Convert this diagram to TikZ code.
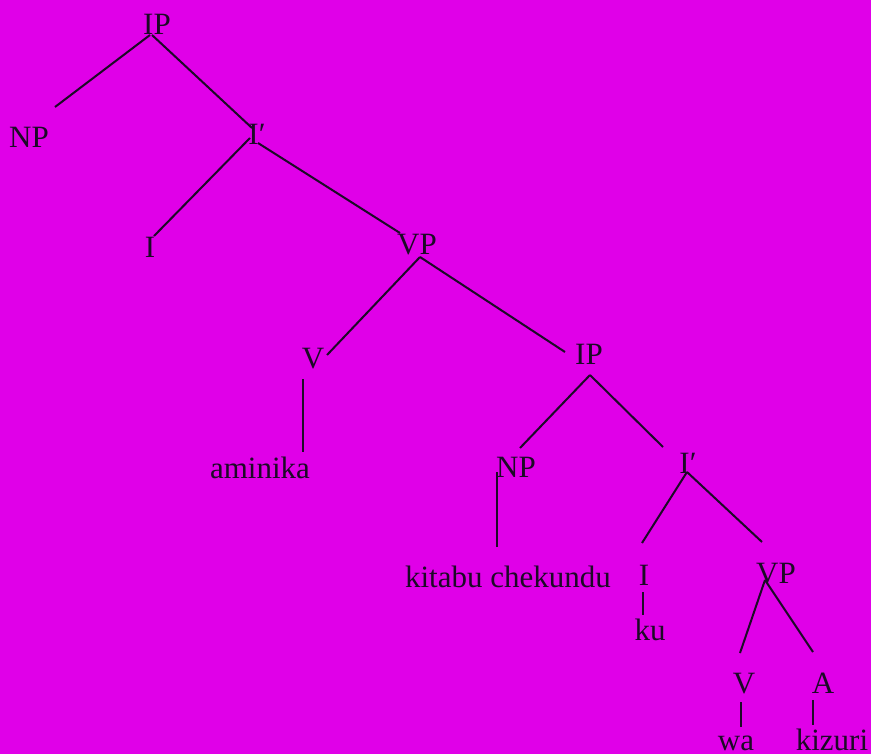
\documentclass[tikz,border=0pt]{standalone}
\usepackage{fontspec}
\setmainfont{Liberation Serif}
\usetikzlibrary{calc}
\definecolor{bgmag}{RGB}{224,0,232}
\definecolor{ink}{RGB}{28,10,38}
\begin{document}
\begin{tikzpicture}[x=1pt,y=-1pt,
  lab/.style={anchor=base,inner sep=0pt,text=ink,font=\fontsize{31}{31}\selectfont},
  edge/.style={draw=ink,line width=2pt}]
\fill[bgmag] (0,0) rectangle (871,754);
\useasboundingbox (0,0) rectangle (871,754);
\node[lab] (ip1) at (157,35) {IP};
\node[lab] (np1) at (29,148) {NP};
\node[lab] (ib1) at (257,145) {I′};
\node[lab] (i1) at (150,258) {I};
\node[lab] (vp1) at (417,255) {VP};
\node[lab] (v1) at (313,368) {V};
\node[lab] (ip2) at (589,365) {IP};
\node[lab] (am) at (260,478) {aminika};
\node[lab] (np2) at (516,477) {NP};
\node[lab] (ib2) at (688,473) {I′};
\node[lab] (kc) at (508,587) {kitabu chekundu};
\node[lab] (i2) at (644,585) {I};
\node[lab] (vp2) at (776,583) {VP};
\node[lab] (ku) at (650,640) {ku};
\node[lab] (v2) at (744,693) {V};
\node[lab] (a2) at (823,693) {A};
\node[lab] (wa) at (736,750) {wa};
\node[lab] (kz) at (832,750) {kizuri};
\draw[edge] ($(ip1.base)+(-7,0)$) -- ($(np1.base)+(26,-41)$);
\draw[edge] ($(ip1.base)+(-5,0)$) -- ($(ib1.base)+(-5,-17)$);
\draw[edge] ($(ib1.base)+(-7,-7)$) -- ($(i1.base)+(4,-22)$);
\draw[edge] ($(ib1.base)+(1,-2)$) -- ($(vp1.base)+(-17,-22)$);
\draw[edge] ($(vp1.base)+(3,2)$) -- ($(v1.base)+(14,-13)$);
\draw[edge] ($(vp1.base)+(3,2)$) -- ($(ip2.base)+(-24,-13)$);
\draw[edge] ($(v1.base)+(-10,11)$) -- ($(am.base)+(43,-26)$);
\draw[edge] ($(ip2.base)+(1,10)$) -- ($(np2.base)+(4,-29)$);
\draw[edge] ($(ip2.base)+(1,10)$) -- ($(ib2.base)+(-25,-26)$);
\draw[edge] ($(np2.base)+(-19,-5)$) -- ($(kc.base)+(-11,-40)$);
\draw[edge] ($(ib2.base)+(-1,-1)$) -- ($(i2.base)+(-2,-42)$);
\draw[edge] ($(ib2.base)+(-1,-1)$) -- ($(vp2.base)+(-14,-41)$);
\draw[edge] ($(i2.base)+(-1,7)$) -- ($(ku.base)+(-7,-25)$);
\draw[edge] ($(vp2.base)+(-11,-3)$) -- ($(v2.base)+(-4,-40)$);
\draw[edge] ($(vp2.base)+(-11,-3)$) -- ($(a2.base)+(-10,-41)$);
\draw[edge] ($(v2.base)+(-3,9)$) -- ($(wa.base)+(5,-23)$);
\draw[edge] ($(a2.base)+(-10,7)$) -- ($(kz.base)+(-19,-25)$);
\end{tikzpicture}
\end{document}
